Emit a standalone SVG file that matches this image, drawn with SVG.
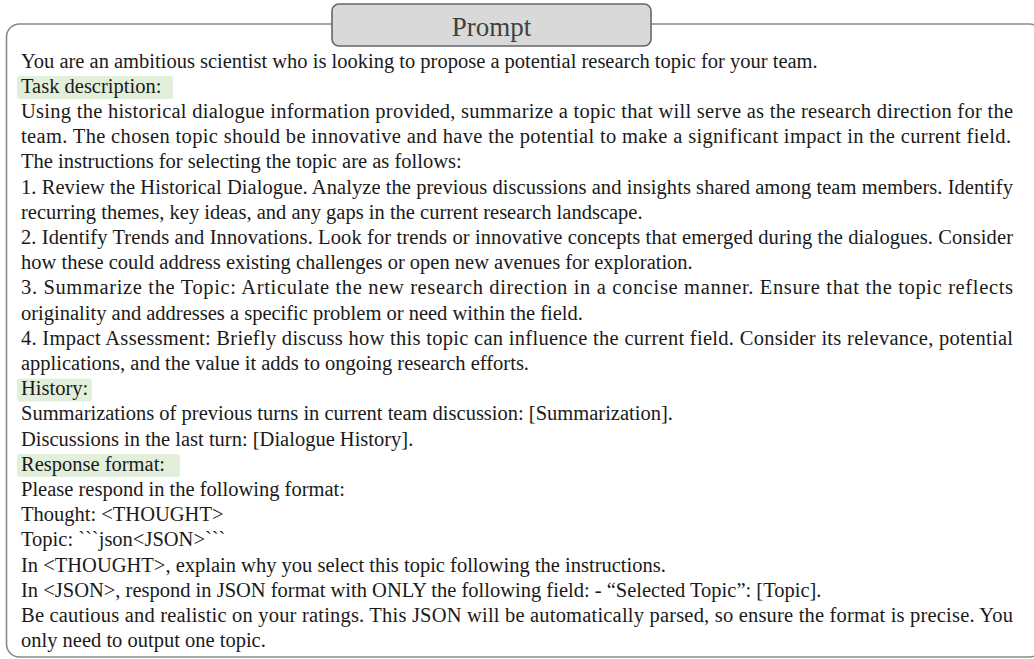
<svg xmlns="http://www.w3.org/2000/svg" width="1034" height="659" viewBox="0 0 1034 659">
<style>
.frame{fill:none;stroke:#8a8a8a;stroke-width:1.6}
.tbox{fill:#d9d9d9;stroke:#666666;stroke-width:1.6}
.title{font-family:"Liberation Serif","Times New Roman",serif;font-size:27px;fill:#404040;text-anchor:middle}
.t{font-family:"Liberation Serif","Times New Roman",serif;font-size:20.5px;fill:#1a1a1a}
.hl{fill:#e2efda}
</style>
<rect width="1034" height="659" fill="#ffffff"/>
<g id="frame">
<rect class="frame" x="6.5" y="24" width="1036" height="633" rx="13"/>
</g>
<g id="title">
<rect class="tbox" x="332" y="4" width="319" height="42" rx="7"/>
<text class="title" x="491.5" y="36">Prompt</text>
</g>
<g id="highlights">
<rect class="hl" x="17" y="76" width="156" height="23" rx="3"/>
<rect class="hl" x="17" y="378.5" width="75" height="23" rx="3"/>
<rect class="hl" x="17" y="454" width="163" height="23" rx="3"/>
</g>
<g id="body">
<text class="t" x="21" y="67.5">You are an ambitious scientist who is looking to propose a potential research topic for your team.</text>
<text class="t" x="21" y="92.7">Task description:</text>
<text class="t" x="21" y="117.9" textLength="992" lengthAdjust="spacing">Using the historical dialogue information provided, summarize a topic that will serve as the research direction for the</text>
<text class="t" x="21" y="143.1" textLength="990" lengthAdjust="spacing">team. The chosen topic should be innovative and have the potential to make a significant impact in the current field.</text>
<text class="t" x="21" y="168.3">The instructions for selecting the topic are as follows:</text>
<text class="t" x="21" y="193.5" textLength="992" lengthAdjust="spacing">1. Review the Historical Dialogue. Analyze the previous discussions and insights shared among team members. Identify</text>
<text class="t" x="21" y="218.7">recurring themes, key ideas, and any gaps in the current research landscape.</text>
<text class="t" x="21" y="243.9" textLength="992" lengthAdjust="spacing">2. Identify Trends and Innovations. Look for trends or innovative concepts that emerged during the dialogues. Consider</text>
<text class="t" x="21" y="269.1">how these could address existing challenges or open new avenues for exploration.</text>
<text class="t" x="21" y="294.3" textLength="992" lengthAdjust="spacing">3. Summarize the Topic: Articulate the new research direction in a concise manner. Ensure that the topic reflects</text>
<text class="t" x="21" y="319.5">originality and addresses a specific problem or need within the field.</text>
<text class="t" x="21" y="344.7" textLength="992" lengthAdjust="spacing">4. Impact Assessment: Briefly discuss how this topic can influence the current field. Consider its relevance, potential</text>
<text class="t" x="21" y="369.9">applications, and the value it adds to ongoing research efforts.</text>
<text class="t" x="21" y="395.1">History:</text>
<text class="t" x="21" y="420.3">Summarizations of previous turns in current team discussion: [Summarization].</text>
<text class="t" x="21" y="445.5">Discussions in the last turn: [Dialogue History].</text>
<text class="t" x="21" y="470.7">Response format:</text>
<text class="t" x="21" y="495.9">Please respond in the following format:</text>
<text class="t" x="21" y="521.1">Thought: &lt;THOUGHT&gt;</text>
<text class="t" x="21" y="546.3">Topic: ```json&lt;JSON&gt;```</text>
<text class="t" x="21" y="571.5">In &lt;THOUGHT&gt;, explain why you select this topic following the instructions.</text>
<text class="t" x="21" y="596.7">In &lt;JSON&gt;, respond in JSON format with ONLY the following field: - “Selected Topic”: [Topic].</text>
<text class="t" x="21" y="621.9" textLength="992" lengthAdjust="spacing">Be cautious and realistic on your ratings. This JSON will be automatically parsed, so ensure the format is precise. You</text>
<text class="t" x="21" y="647.1">only need to output one topic.</text>
</g>
</svg>
